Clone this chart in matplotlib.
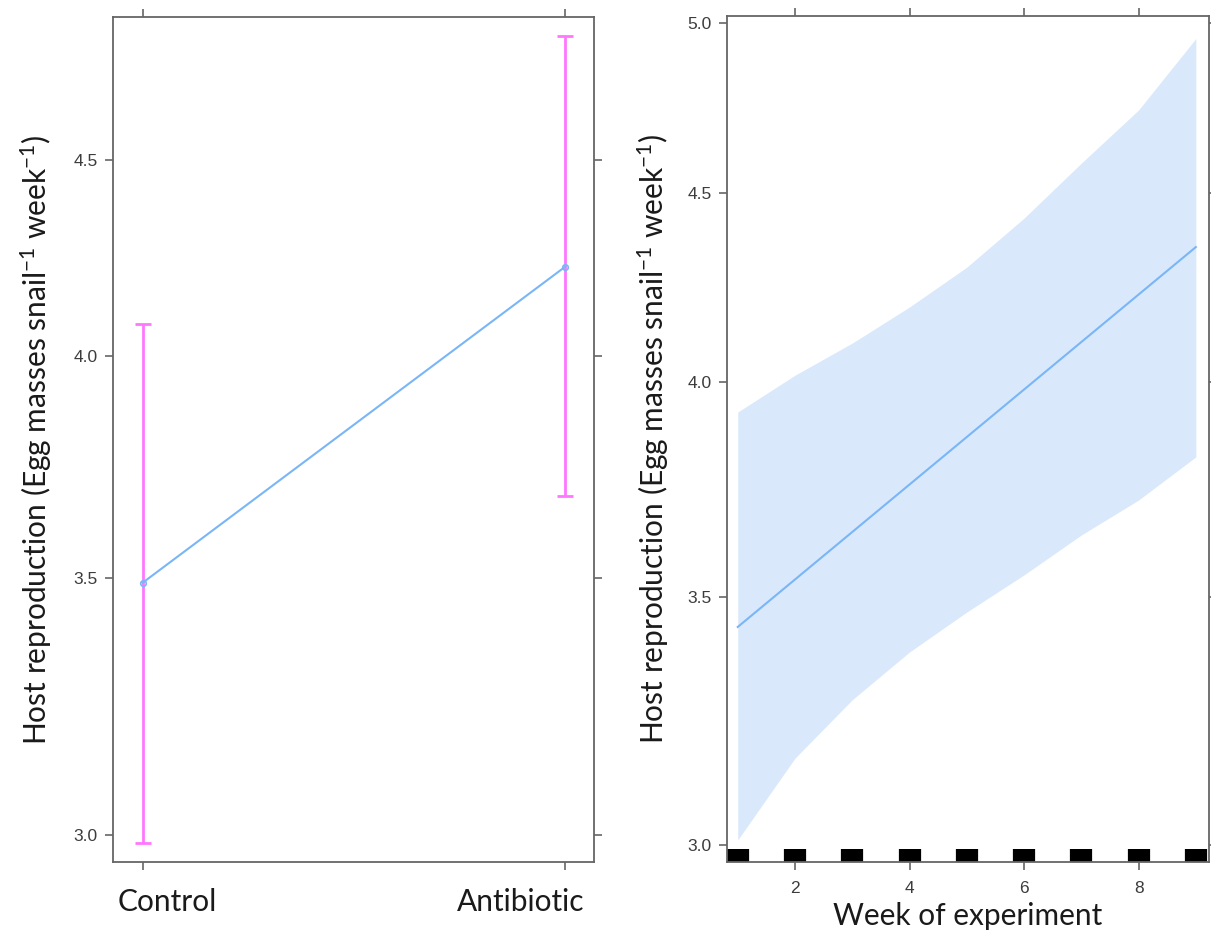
import numpy as np
import matplotlib
matplotlib.use('Agg')
import matplotlib.pyplot as plt
from matplotlib.ticker import FixedLocator, NullLocator, FormatStrFormatter

plt.rcParams['font.family'] = ['Lato', 'DejaVu Sans']
plt.rcParams['mathtext.fontset'] = 'custom'
plt.rcParams['mathtext.rm'] = 'Lato'
plt.rcParams['mathtext.it'] = 'Lato'

# left panel: treatment effect
treatments = ['Control', 'Antibiotic']
treat_fit = [3.49, 4.22]
treat_lower = [2.985, 3.677]
treat_upper = [4.078, 4.848]

# right panel: week effect
fit_weeks = [1, 9]
fit_vals = [3.435, 4.35]
weeks = [1, 2, 3, 4, 5, 6, 7, 8, 9]
band_lower = [3.009, 3.166, 3.283, 3.382, 3.467, 3.548, 3.637, 3.717, 3.818]
band_upper = [3.926, 4.017, 4.098, 4.191, 4.296, 4.429, 4.583, 4.737, 4.952]
rug_weeks = [1, 2, 3, 4, 5, 6, 7, 8, 9]

ylab = 'Host reproduction (Egg masses snail$^{-1}$ week$^{-1}$)'
line_col = '#7ab6f7'
band_col = '#d9e9fb'
err_col = '#ff77ff'
frame_col = '#666666'
tick_col = '#3c3c3c'
big = 21.5

fig = plt.figure(figsize=(12.11, 9.39), dpi=100)
ax1 = fig.add_axes([113/1211, 77/939, 481/1211, 845/939])
ax2 = fig.add_axes([727/1211, 77/939, 482/1211, 846/939])


def style(ax):
    for s in ax.spines.values():
        s.set_color(frame_col)
        s.set_linewidth(1.3)
    ax.set_yscale('log')
    ax.yaxis.set_minor_locator(NullLocator())
    ax.xaxis.set_minor_locator(NullLocator())
    ax.tick_params(which='both', direction='out', length=6, width=1.2,
                   color=frame_col, top=True, right=True,
                   labeltop=False, labelright=False,
                   labelsize=12.5, labelcolor=tick_col,
                   labelfontfamily='Liberation Sans')
    ax.tick_params(axis='y', pad=5)


# left panel
x = np.arange(1, len(treatments) + 1)
yerr = [np.array(treat_fit) - np.array(treat_lower),
        np.array(treat_upper) - np.array(treat_fit)]
ax1.errorbar(x, treat_fit, yerr=yerr, fmt='none', ecolor=err_col,
             elinewidth=2, capsize=6, capthick=2)
ax1.plot(x, treat_fit, color=line_col, lw=1.5, marker='o', ms=4,
         mfc='none', mec=line_col, mew=1.2)
style(ax1)
ax1.set_xlim(0.93, 2.068)
ax1.set_ylim(2.951, 4.903)
ax1.yaxis.set_major_locator(FixedLocator([3.0, 3.5, 4.0, 4.5]))
ax1.yaxis.set_major_formatter(FormatStrFormatter('%.1f'))
ax1.set_xticks(x)
ax1.set_xticklabels([])
ax1.annotate(treatments[0], xy=(x[0], 0), xycoords=('data', 'axes fraction'),
             xytext=(18, -29), textcoords='offset points',
             ha='center', va='center', fontsize=big, color='#1a1a1a')
ax1.annotate(treatments[1], xy=(x[1], 0), xycoords=('data', 'axes fraction'),
             xytext=(-32, -29), textcoords='offset points',
             ha='center', va='center', fontsize=big, color='#1a1a1a')
ax1.set_ylabel(ylab, fontsize=big, color='#1a1a1a', labelpad=14)

# right panel
ax2.fill_between(weeks, band_lower, band_upper, color=band_col, lw=0)
ax2.plot(fit_weeks, fit_vals, color=line_col, lw=1.5)
ax2.vlines(rug_weeks, 0, 13/846, transform=ax2.get_xaxis_transform(),
           colors='black', linewidth=16, capstyle='butt')
style(ax2)
ax2.set_xlim(0.812, 9.23)
ax2.set_ylim(2.968, 5.022)
ax2.yaxis.set_major_locator(FixedLocator([3.0, 3.5, 4.0, 4.5, 5.0]))
ax2.yaxis.set_major_formatter(FormatStrFormatter('%.1f'))
ax2.set_xticks([2, 4, 6, 8])
ax2.tick_params(axis='x', pad=8)
ax2.set_xlabel('Week of experiment', fontsize=big, color='#1a1a1a', labelpad=4)
ax2.set_ylabel(ylab, fontsize=big, color='#1a1a1a', labelpad=12)

fig.savefig('out.png', dpi=100)
